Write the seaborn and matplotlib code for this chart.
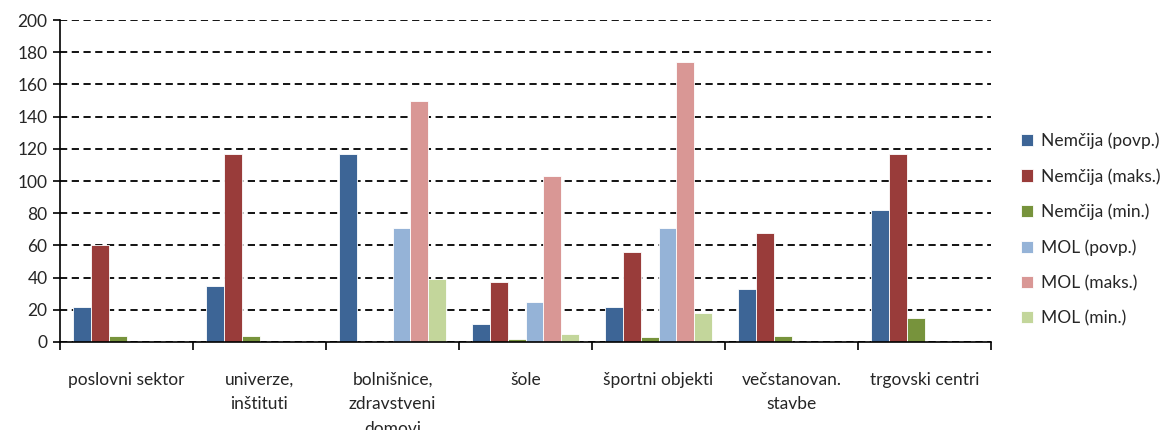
import matplotlib
matplotlib.use("Agg")
import matplotlib.pyplot as plt
import numpy as np
import pandas as pd
import seaborn as sns

categories = ["poslovni sektor", "univerze,\ninštituti", "bolnišnice,\nzdravstveni\ndomovi",
              "šole", "športni objekti", "večstanovan.\nstavbe", "trgovski centri"]
series = ["Nemčija (povp.)", "Nemčija (maks.)", "Nemčija (min.)",
          "MOL (povp.)", "MOL (maks.)", "MOL (min.)"]

nem_povp = [22, 35, 117, 11, 22, 33, 82]
nem_maks = [60, 117, 0, 37, 56, 68, 117]
nem_min = [4, 4, 0, 2, 3, 4, 15]
mol_povp = [0, 0, 71, 25, 71, 0, 0]
mol_maks = [0, 0, 150, 103, 174, 0, 0]
mol_min = [0, 0, 39, 5, 18, 0, 0]

colors = ["#3D6596", "#993C3A", "#77933C", "#95B3D7", "#D99795", "#C3D69B"]

values = [nem_povp, nem_maks, nem_min, mol_povp, mol_maks, mol_min]
rows = []
for s, vals in zip(series, values):
    for c, v in zip(categories, vals):
        rows.append({"kategorija": c, "serija": s, "vrednost": v})
df = pd.DataFrame(rows)

sns.set_style("white")
plt.rcParams["font.family"] = ["Lato", "DejaVu Sans"]

fig = plt.figure(figsize=(11.72, 4.30), dpi=100)
ax = fig.add_axes([60 / 1172, 88 / 430, 931 / 1172, 322 / 430])

sns.barplot(data=df, x="kategorija", y="vrednost", hue="serija", order=categories,
            hue_order=series, palette=colors, saturation=1, width=0.81, ax=ax,
            edgecolor="white", linewidth=0.6, legend=True)

ax.set_ylim(0, 200)
ax.set_xlim(-0.5, len(categories) - 0.5)
ax.set_yticks(np.arange(0, 201, 20))
ax.set_axisbelow(True)
ax.yaxis.grid(True, color="black", linestyle=(0, (4, 2.5)), linewidth=1.3)
ax.xaxis.grid(False)

ax.set_xlabel("")
ax.set_ylabel("")
for side in ["top", "right"]:
    ax.spines[side].set_visible(False)
for side in ["left", "bottom"]:
    ax.spines[side].set_color("black")
    ax.spines[side].set_linewidth(1.2)

ax.tick_params(axis="y", which="major", left=True, length=5, width=1.2, color="black",
               labelsize=12.5, pad=4)
ax.tick_params(axis="x", which="major", bottom=False, labelsize=12.5, pad=18)
ax.set_xticks(np.arange(-0.5, len(categories), 1), minor=True)
ax.tick_params(axis="x", which="minor", bottom=True, length=6, width=1.2, color="black")
for lbl in ax.get_xticklabels():
    lbl.set_verticalalignment("top")
    lbl.set_linespacing(1.65)

ax.legend(loc="center left", bbox_to_anchor=(1.015, 0.35), frameon=False,
          fontsize=12.5, handlelength=0.7, handleheight=0.7, handletextpad=0.5,
          labelspacing=1.1)

fig.savefig("out.png", dpi=100)
